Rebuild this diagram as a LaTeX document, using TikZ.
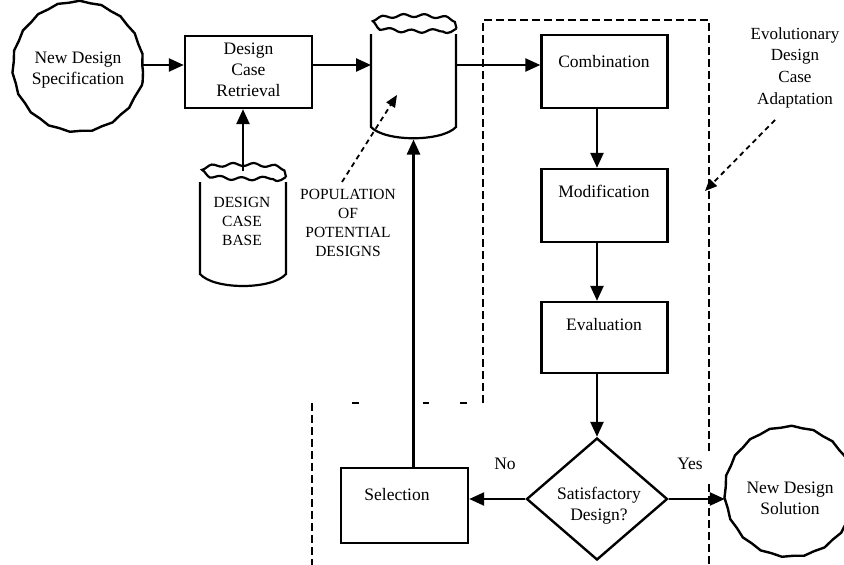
\documentclass[tikz,border=0pt]{standalone}
\usepackage{fontspec}
\setmainfont{Liberation Serif}
\usetikzlibrary{arrows.meta,decorations.pathmorphing,shapes.geometric,calc}
\begin{document}
\begin{tikzpicture}[x=1pt,y=-1pt,
  box/.style={draw, line width=2.4pt, minimum width=126pt, minimum height=73pt, inner sep=0pt},
  lbl/.style={font=\fontsize{17.5}{21}\selectfont, align=center, inner sep=0pt},
  caps/.style={font=\fontsize{15.5}{19}\selectfont, align=center, inner sep=0pt},
  flow/.style={line width=2.4pt, -{Triangle[length=15pt,width=13pt]}},
  note/.style={line width=1.8pt, dash pattern=on 5pt off 4pt, -{Triangle[length=12pt,width=10pt]}},
  bound/.style={line width=2.8pt, dash pattern=on 8pt off 4pt},
  wavy/.style={decorate, decoration={snake, segment length=22pt, amplitude=0.7pt}},
  cloudy/.style={decorate, decoration={snake, segment length=21pt, amplitude=1.6pt}},
  cyl/.style={line width=2.2pt},
  hold/.style={inner sep=0pt, outer sep=0pt},
]
\useasboundingbox (0,0) rectangle (844,565);

% cropped title line
\node[anchor=base west, font=\fontsize{30}{36}\selectfont, inner sep=0pt] (title) at (87,-7.5) {design with evolutionary design case adaptation};

% row and column helpers
\coordinate (r1) at (0,65);
\coordinate (ax) at (597,0);

% New Design Specification
\node[lbl, circle, minimum size=130pt] (spec) at (78,70) {New Design\\Specification};
\draw[wavy, line width=2.4pt] (78,72) circle[radius=65pt];

% Design Case Retrieval
\node[box, minimum width=127pt, minimum height=72pt] (dcr) at (248.5,72) {};
\node[lbl] (dcrt) at (248.5,69.5) {Design\\Case\\Retrieval};

% Design case base cylinder
\node[hold, minimum width=86pt, minimum height=116pt] (dcb) at (243,229) {};
\draw[cyl, cloudy] (243,177) ellipse[x radius=43pt, y radius=6pt];
\draw[cyl] (200,182) -- (200,274) .. controls (214,290) and (272,290) .. (286,274) -- (286,182);
\node[caps] (dcbt) at (242,221) {DESIGN\\CASE\\BASE};

% Population cylinder
\node[hold, minimum width=85pt, minimum height=118pt] (pop) at (413.5,80.5) {};
\draw[cyl, cloudy] (413.5,28.5) ellipse[x radius=43pt, y radius=6.5pt];
\draw[cyl] (371,34) -- (371,127) .. controls (385,142) and (442,142) .. (456,127) -- (456,34);
\node[caps] (popt) at (348,223) {POPULATION\\OF\\POTENTIAL\\DESIGNS};
\coordinate (popfrom) at (342,182);
\coordinate (popto) at (397,95);

% adaptation column
\node[box] (comb) at (604.5,71.5) {};
\node[lbl] (combt) at (604,62) {Combination};
\node[box] (mod) at (604.5,205.5) {};
\node[lbl] (modt) at (604,191) {Modification};
\node[box, minimum height=71pt] (eval) at (604.5,337.5) {};
\node[lbl] (evalt) at (604,325) {Evaluation};
\node[draw, diamond, line width=2.4pt, minimum width=141pt, minimum height=122pt, inner sep=0pt] (dia) at (597,499) {};
\node[lbl] (diat) at (599,506) {Satisfactory\\Design?};

% Selection
\node[box, minimum width=127pt, minimum height=75pt] (sel) at (404.5,505.5) {};
\node[lbl] (selt) at (397,495) {Selection};

% New Design Solution
\node[lbl, circle, minimum size=130pt] (sol) at (790,498) {New Design\\Solution};
\draw[wavy, line width=2.4pt] (790,497) circle[radius=65pt];

% labels
\node[lbl] (no) at (505,464) {No};
\node[lbl] (yes) at (690,464) {Yes};
\node[lbl, font=\fontsize{17}{21.7}\selectfont] (evo) at (795,67.5) {Evolutionary\\Design\\Case\\Adaptation};
\coordinate (evofrom) at (775,120);
\coordinate (evoto) at (705,191);

% dashed boundaries
\draw[bound] (483,403) -- (483,20) -- (709,20) -- (709,451);
\draw[bound] (709,484) -- (709,565);
\draw[bound] (312,403) -- (312,565);
\draw[line width=1.5pt] (352,403) -- (359,403);
\draw[line width=1.5pt] (423,403) -- (429,403);
\draw[line width=1.5pt] (460,403) -- (467,403);

% connectors
\draw[flow] (spec.east |- r1) -- (dcr.west |- r1);
\draw[flow] (dcb.north) -- (dcr.south -| dcb.north);
\draw[flow] (dcr.east |- r1) -- (pop.west |- r1);
\draw[flow] (pop.east |- r1) -- (comb.west |- r1);
\draw[flow] (comb.south -| ax) -- (mod.north -| ax);
\draw[flow] (mod.south -| ax) -- (eval.north -| ax);
\draw[flow] (eval.south -| ax) -- (dia.north);
\draw[flow] (dia.west) -- (sel.east |- dia.west);
\draw[flow] (dia.east) -- (sol.west |- dia.east);
\draw[flow] (sel.north -| pop.south) -- (pop.south);
\draw[note] (popfrom) -- (popto);
\draw[note] (evofrom) -- (evoto);
\end{tikzpicture}
\end{document}
